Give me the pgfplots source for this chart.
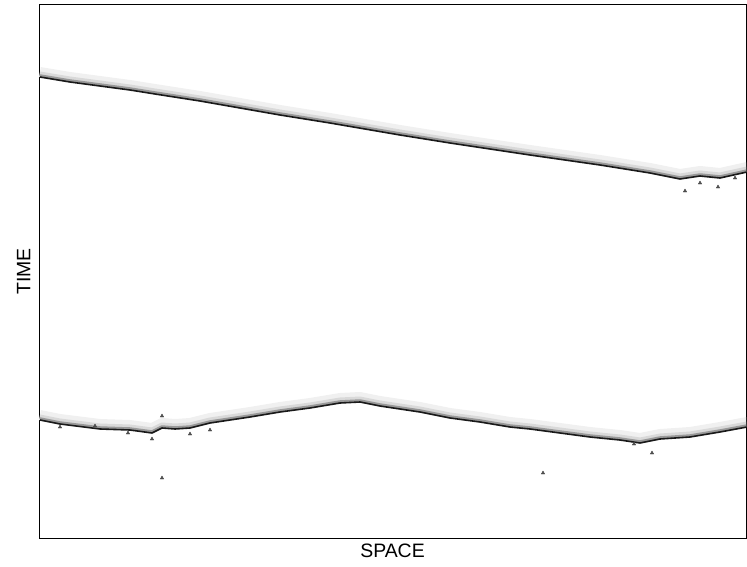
\documentclass[border=0pt]{standalone}
\usepackage{pgfplots}
\usepackage{pgfplotstable}
\pgfplotsset{compat=1.18}
\usepackage{fontspec}
\setmainfont{Liberation Sans}
\pgfplotstableread{
x y
40 77
70 82
100 86
130 90
155 94
200 101
240 108
280 115
330 123
400 135
450 143
490 149
530 155
600 165
650 173
680 179
700 176
720 178
747 172
}\topline
\pgfplotstableread{
x y
40 420
60 424
100 429
130 430
152 433
162 428
175 429
190 428
210 423
250 417
280 412
310 408
340 403
360 402
380 406
420 412
450 418
480 422
510 427
530 429
560 433
590 437
620 440
640 443
660 439
690 437
720 432
747 427
}\botline
\pgfplotstableread{
x y
685 191
700 183
718 187
735 178
60 427
95 426
152 439
162 416
190 434
210 430
162 478
543 473
652 453
634 444
128 433
}\blobs
\pgfplotsset{
  fz1/.style={draw=black!6, line width=10bp, yshift=5bp, line join=round},
  fz2/.style={draw=black!15, line width=5bp, yshift=3bp, line join=round},
  fz3/.style={draw=black!40, line width=2.5bp, yshift=1.5bp, line join=round},
  fz4/.style={draw=black!90, line width=1.6bp, line join=round},
}
\begin{document}
\begin{tikzpicture}
\useasboundingbox (-39bp,-29bp) rectangle (708bp,538bp);
\begin{axis}[
  scale only axis, width=707bp, height=533bp,
  xmin=39, xmax=746, ymin=5, ymax=538, y dir=reverse,
  xtick=\empty, ytick=\empty,
  axis line style={line width=1pt},
  xlabel={SPACE}, ylabel={TIME},
  xlabel style={font=\fontsize{19.5}{22}\selectfont, yshift=-2bp},
  ylabel style={font=\fontsize{19.5}{22}\selectfont, yshift=5bp},
  clip=true,
]
\addplot[fz1] table {\topline};
\addplot[fz2] table {\topline};
\addplot[fz3] table {\topline};
\addplot[fz4] table {\topline};
\addplot[fz1] table {\botline};
\addplot[fz2] table {\botline};
\addplot[fz3] table {\botline};
\addplot[fz4] table {\botline};
\addplot[only marks, mark=triangle*, mark size=2bp, black!70] table {\blobs};
\end{axis}
\end{tikzpicture}
\end{document}
